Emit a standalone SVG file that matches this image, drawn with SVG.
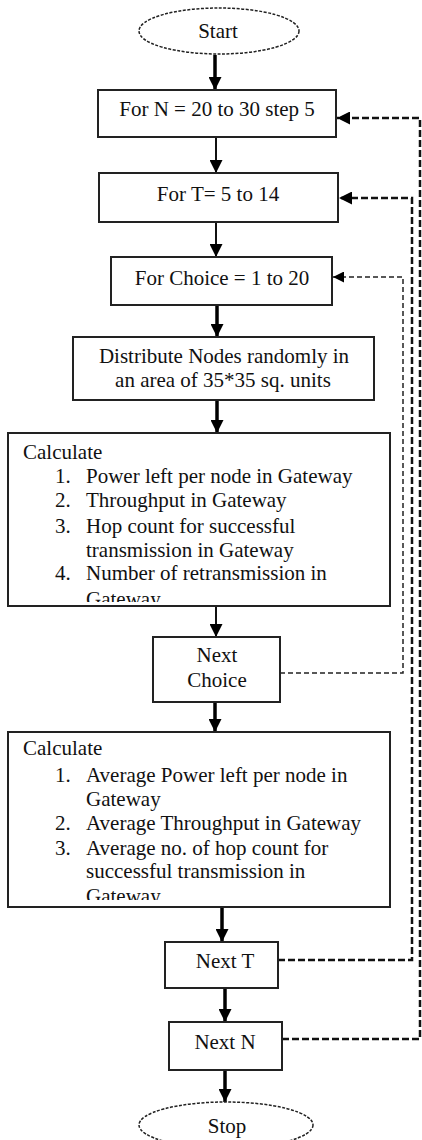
<svg xmlns="http://www.w3.org/2000/svg" width="422" height="1140" viewBox="0 0 422 1140">
<style>
text{font-family:"Liberation Serif","Times New Roman",serif;font-size:21px;fill:#111}
.c{text-anchor:middle}
.box{fill:#fff;stroke:#222;stroke-width:2}
.term{fill:#fff;stroke:#222;stroke-width:1.5;stroke-dasharray:3 1.5}
.thick{stroke:#000;stroke-width:3.5;fill:none}
.thin{stroke:#111;stroke-width:2;fill:none}
.dl{stroke:#111;stroke-width:2.5;fill:none;stroke-dasharray:7 3}
.dt{stroke:#222;stroke-width:1.5;fill:none;stroke-dasharray:5 3}
</style>
<defs>
<marker id="ah" viewBox="0 0 12 12" markerWidth="13" markerHeight="13" refX="12" refY="6" orient="auto" markerUnits="userSpaceOnUse"><path d="M0,0 L12,6 L0,12 z" fill="#000"/></marker>
<marker id="ahs" viewBox="0 0 12 12" markerWidth="11" markerHeight="11" refX="12" refY="6" orient="auto" markerUnits="userSpaceOnUse"><path d="M0,0 L12,6 L0,12 z" fill="#000"/></marker>
<clipPath id="clip1"><rect x="8" y="433" width="382" height="169"/></clipPath>
<clipPath id="clip2"><rect x="8" y="732" width="382" height="168"/></clipPath>
</defs>

<g id="connectors">
<line class="thick" x1="215" y1="55" x2="215" y2="90" marker-end="url(#ah)"/>
<line class="thin" x1="216" y1="137" x2="216" y2="173" marker-end="url(#ah)"/>
<line class="thin" x1="216" y1="222" x2="216" y2="257" marker-end="url(#ah)"/>
<line class="thick" x1="217" y1="305" x2="217" y2="337" marker-end="url(#ah)"/>
<line class="thick" x1="217" y1="400" x2="217" y2="433" marker-end="url(#ah)"/>
<line class="thin" x1="216" y1="606" x2="216" y2="637" marker-end="url(#ah)"/>
<line class="thick" x1="215" y1="702" x2="215" y2="732" marker-end="url(#ah)"/>
<line class="thick" x1="222" y1="907" x2="222" y2="942" marker-end="url(#ah)"/>
<line class="thick" x1="225" y1="988" x2="225" y2="1022" marker-end="url(#ah)"/>
<line class="thick" x1="225" y1="1070" x2="225" y2="1102" marker-end="url(#ah)"/>
<polyline class="dl" points="282,1039 420,1039 420,118 337,118" marker-end="url(#ah)"/>
<polyline class="dl" points="278,960 412,960 412,198 339,198" marker-end="url(#ah)"/>
<polyline class="dt" points="280,673 403,673 403,277 333,277" marker-end="url(#ahs)"/>
</g>

<g id="start"><ellipse class="term" cx="219" cy="31" rx="80" ry="23"/><text class="c" x="218" y="38">Start</text></g>
<g id="forN"><rect class="box" x="98" y="90" width="238" height="47"/><text class="c" x="217" y="116">For N = 20 to 30 step 5</text></g>
<g id="forT"><rect class="box" x="99" y="173" width="239" height="49"/><text class="c" x="218" y="201">For T= 5 to 14</text></g>
<g id="forChoice"><rect class="box" x="111" y="257" width="221" height="48"/><text class="c" x="222" y="285">For Choice = 1 to 20</text></g>
<g id="distribute"><rect class="box" x="73" y="337" width="301" height="63"/><text class="c" x="224" y="363">Distribute Nodes randomly in</text><text class="c" x="223" y="387">an area of 35*35 sq. units</text></g>
<g id="calc1"><rect class="box" x="8" y="433" width="382" height="173"/>
<g clip-path="url(#clip1)">
<text x="23" y="459">Calculate</text>
<text x="55" y="483">1.</text><text x="86" y="483">Power left per node in Gateway</text>
<text x="55" y="507">2.</text><text x="86" y="507">Throughput in Gateway</text>
<text x="55" y="533">3.</text><text x="86" y="533">Hop count for successful</text>
<text x="86" y="557">transmission in Gateway</text>
<text x="55" y="580">4.</text><text x="86" y="580">Number of retransmission  in</text>
<text x="86" y="606">Gateway</text>
</g></g>
<g id="nextChoice"><rect class="box" x="153" y="637" width="127" height="65"/><text class="c" x="217" y="662">Next</text><text class="c" x="217" y="687">Choice</text></g>
<g id="calc2"><rect class="box" x="8" y="732" width="382" height="175"/>
<g clip-path="url(#clip2)">
<text x="23" y="755">Calculate</text>
<text x="55" y="782">1.</text><text x="86" y="782">Average Power left per node in</text>
<text x="86" y="806">Gateway</text>
<text x="55" y="830">2.</text><text x="86" y="830">Average Throughput in Gateway</text>
<text x="55" y="855">3.</text><text x="86" y="855">Average no. of hop count for</text>
<text x="86" y="878">successful transmission in</text>
<text x="86" y="903">Gateway</text>
</g></g>
<g id="nextT"><rect class="box" x="165" y="942" width="113" height="46"/><text class="c" x="225" y="968">Next T</text></g>
<g id="nextN"><rect class="box" x="169" y="1022" width="113" height="48"/><text class="c" x="225" y="1049">Next N</text></g>
<g id="stop"><ellipse class="term" cx="226" cy="1125" rx="87" ry="23"/><text class="c" x="227" y="1133">Stop</text></g>
</svg>
